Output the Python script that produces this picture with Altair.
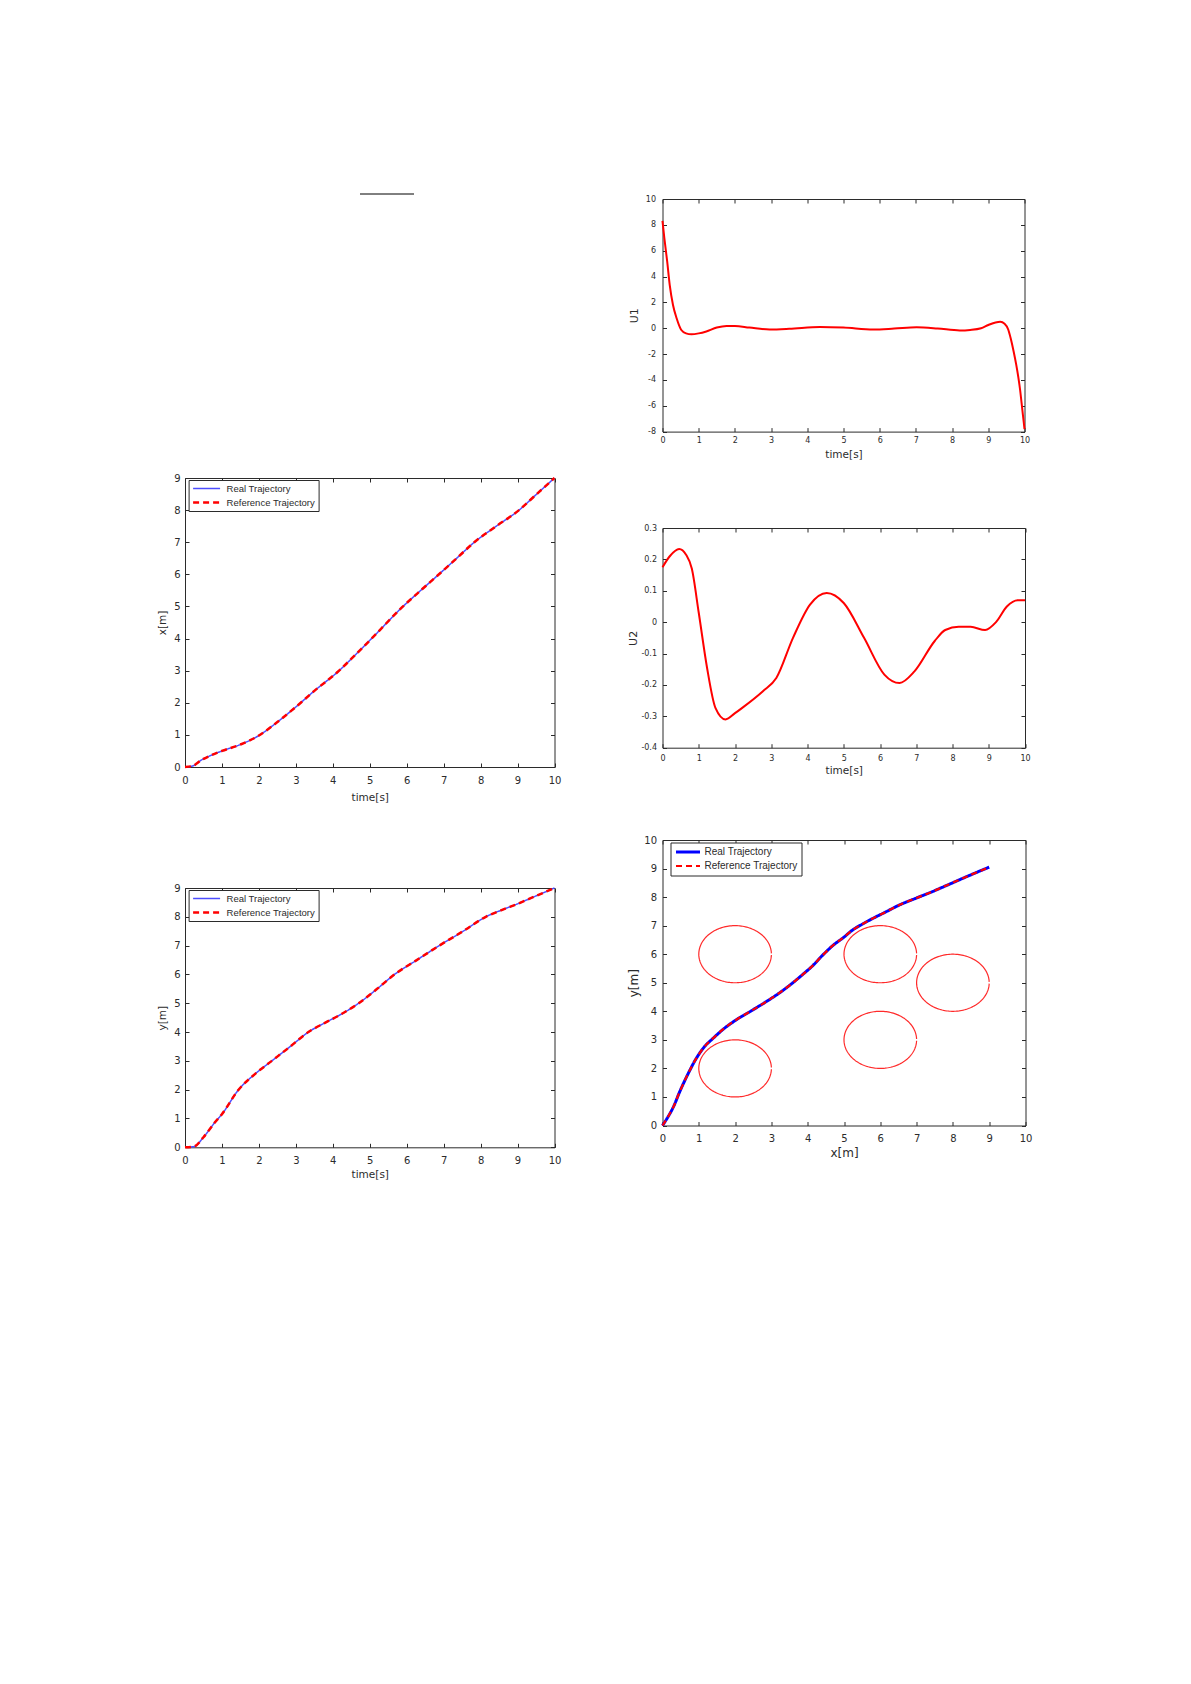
import altair as alt
import numpy as np
import pandas as pd

FONT = "Liberation Sans"
AXFONT = "DejaVu Sans"
INK = "#2b2b2b"
TS = 4  # inward tick length

SERIES = ["Real Trajectory", "Reference Trajectory"]

# ---------------- data ----------------
# control input U1
u1_t = [0, 0.05, 0.13, 0.2, 0.29, 0.39, 0.52, 0.65, 0.8, 1.0, 1.21, 1.5,
        1.77, 2.0, 2.4, 2.96, 3.5, 4.35, 5.0, 5.82, 6.4, 7.02, 7.6, 8.21, 8.5, 8.8, 9.0, 9.2,
        9.33, 9.45, 9.55, 9.62, 9.7, 9.77, 9.83, 9.88, 9.92, 9.96, 10.0]
u1_v = [8.3, 7.0, 5.15, 3.34, 1.8, 0.77, -0.14, -0.4, -0.47, -0.4, -0.25, 0.05,
        0.17, 0.17, 0.05, -0.1, -0.05, 0.1, 0.05, -0.1, -0.03, 0.07, -0.02, -0.17, -0.13, 0.0,
        0.25, 0.45, 0.5, 0.35, -0.1, -0.8, -1.8, -2.8, -3.8, -4.8, -5.8, -6.8, -7.8]

# control input U2
u2_t = [0, 0.2, 0.46, 0.65, 0.81, 1.0, 1.23, 1.46, 1.74, 2.0, 2.2, 2.77, 3.14, 3.6, 4.07,
        4.53, 5.0, 5.56, 6.12, 6.54, 6.95, 7.51, 7.8, 8.17, 8.5, 8.9, 9.2, 9.5, 9.8, 10]
u2_v = [0.175, 0.21, 0.233, 0.215, 0.17, 0.03, -0.146, -0.273, -0.31, -0.29, -0.273, -0.22,
        -0.178, -0.05, 0.056, 0.093, 0.061, -0.05, -0.167, -0.194, -0.157, -0.06, -0.025,
        -0.015, -0.015, -0.025, 0.0, 0.05, 0.07, 0.07]

# x(t)
xt_t = [0, 0.2, 0.45, 0.7, 1.0, 1.5, 2.0, 2.5, 3.0, 3.5, 4.17, 4.6, 5.05, 5.9, 6.4, 6.92,
        7.4, 7.83, 8.4, 9.04, 9.5, 10]
xt_x = [0, 0.03, 0.22, 0.36, 0.5, 0.7, 0.98, 1.4, 1.87, 2.37, 3.0, 3.48, 4.0, 5.0, 5.52,
        6.05, 6.55, 7.0, 7.48, 8.0, 8.48, 9.0]

# y(t)
yt_t = [0, 0.25, 0.5, 0.8, 1.0, 1.45, 1.9, 2.35, 2.85, 3.34, 3.8, 4.2, 4.7, 5.2, 5.67, 6.25,
        6.88, 7.5, 8.14, 8.6, 9.0, 9.31, 10]
yt_y = [0, 0.03, 0.35, 0.85, 1.15, 2.0, 2.55, 3.0, 3.5, 4.0, 4.33, 4.6, 5.0, 5.5, 6.0, 6.48,
        7.0, 7.48, 8.0, 8.25, 8.45, 8.62, 9.0]

# planar path y(x)
path_x = [0, 0.15, 0.3, 0.48, 0.7, 0.93, 1.15, 1.39, 1.7, 2.03, 2.45, 2.86, 3.25, 3.59, 3.9,
          4.14, 4.4, 4.69, 5.0, 5.24, 5.5, 5.79, 6.15, 6.52, 7.0, 7.43, 7.9, 8.44, 9.0]
path_y = [0, 0.3, 0.65, 1.2, 1.8, 2.35, 2.75, 3.05, 3.4, 3.7, 4.02, 4.34, 4.67, 5.0, 5.33,
          5.6, 5.95, 6.3, 6.6, 6.85, 7.05, 7.25, 7.48, 7.72, 7.97, 8.19, 8.45, 8.75, 9.05]

# obstacles
obs_cx = [2, 6, 8, 6, 2]
obs_cy = [6, 6, 5, 3, 2]
obs_r = 1.0

# tick values
t_ticks = [0, 1, 2, 3, 4, 5, 6, 7, 8, 9, 10]
u1_ticks = [-8, -6, -4, -2, 0, 2, 4, 6, 8, 10]
u2_ticks = [-0.4, -0.3, -0.2, -0.1, 0, 0.1, 0.2, 0.3]
m9_ticks = [0, 1, 2, 3, 4, 5, 6, 7, 8, 9]
m10_ticks = [0, 1, 2, 3, 4, 5, 6, 7, 8, 9, 10]

LABEL_EXPR = "'' + datum.value"
NONPOS = dict(color="independent", strokeDash="independent", strokeWidth="independent")


def main_axis(orient, vals, title, lab_fs, tit_fs, lab_pad, tit_pad):
    return alt.Axis(orient=orient, values=vals, offset=-TS, tickSize=TS, tickColor=INK,
                    tickWidth=1, domain=False, grid=False, labelFont=AXFONT,
                    labelFontSize=lab_fs, labelColor=INK, labelPadding=lab_pad,
                    labelFlush=False, labelOverlap=False, labelExpr=LABEL_EXPR,
                    title=title, titleFont=AXFONT, titleFontSize=tit_fs,
                    titleFontWeight="normal", titleColor=INK, titlePadding=tit_pad)


def tick_axis(orient, vals):
    return alt.Axis(orient=orient, values=vals, offset=-TS, tickSize=TS, tickColor=INK,
                    tickWidth=1, domain=False, grid=False, labels=False, title=None)


def frame_layer(df, xf, yf, xs, ys, xvals, yvals):
    return alt.Chart(df).mark_point(opacity=0).encode(
        x=alt.X(xf, type="quantitative", scale=xs, axis=tick_axis("top", xvals)),
        y=alt.Y(yf, type="quantitative", scale=ys, axis=tick_axis("right", yvals)),
    )


def legend(fs, sym_len, lx, ly, pad, row_h, lab_off):
    return alt.Legend(orient="none", legendX=lx, legendY=ly, title=None, symbolType="stroke",
                      symbolSize=sym_len * sym_len, labelFont=FONT, labelFontSize=fs,
                      labelColor=INK, labelOffset=lab_off, padding=pad, rowPadding=3,
                      clipHeight=row_h, fillColor="white", strokeColor=INK,
                      direction="vertical")


def gap(h):
    return alt.Chart(pd.DataFrame({"z": [0]})).mark_rule(opacity=0).encode(
        x=alt.value(0), x2=alt.value(1), y=alt.value(0)
    ).properties(width=1, height=h, view=alt.ViewBackground(strokeOpacity=0))


def two_series(xs_list, ys_list):
    n = len(xs_list)
    return pd.DataFrame({
        "a": list(xs_list) * 2,
        "b": list(ys_list) * 2,
        "k": list(range(n)) * 2,
        "series": [SERIES[0]] * n + [SERIES[1]] * n,
    })


def traj_encodings(colors, widths, leg):
    return dict(
        color=alt.Color("series:N", scale=alt.Scale(domain=SERIES, range=colors), legend=leg),
        strokeDash=alt.StrokeDash("series:N", scale=alt.Scale(domain=SERIES, range=[[1, 0], [6, 4]]), legend=leg),
        strokeWidth=alt.StrokeWidth("series:N", scale=alt.Scale(domain=SERIES, range=widths), legend=leg),
        order=alt.Order("k:Q"),
    )


tscale = alt.Scale(domain=[0, 10], nice=False, zero=False)

# ---------------- U1 ----------------
u1_df = pd.DataFrame({"t": u1_t, "u": u1_v})
u1_ys = alt.Scale(domain=[-8, 10], nice=False, zero=False)
u1_line = alt.Chart(u1_df).mark_line(color="#ff0000", strokeWidth=2, interpolate="monotone").encode(
    x=alt.X("t:Q", scale=tscale, axis=main_axis("bottom", t_ticks, "time[s]", 8, 10.5, 5, 5)),
    y=alt.Y("u:Q", scale=u1_ys, axis=main_axis("left", u1_ticks, "U1", 8, 11, 7, 6)),
)
u1 = alt.layer(u1_line, frame_layer(u1_df, "t", "u", tscale, u1_ys, t_ticks, u1_ticks)).resolve_axis(
    x="independent", y="independent").properties(width=362, height=232.6)

# ---------------- U2 ----------------
u2_df = pd.DataFrame({"t": u2_t, "u": u2_v})
u2_ys = alt.Scale(domain=[-0.4, 0.3], nice=False, zero=False)
u2_line = alt.Chart(u2_df).mark_line(color="#ff0000", strokeWidth=2, interpolate="monotone").encode(
    x=alt.X("t:Q", scale=tscale, axis=main_axis("bottom", t_ticks, "time[s]", 8, 10.5, 7, 3)),
    y=alt.Y("u:Q", scale=u2_ys, axis=main_axis("left", u2_ticks, "U2", 8, 11, 6, 2)),
)
u2 = alt.layer(u2_line, frame_layer(u2_df, "t", "u", tscale, u2_ys, t_ticks, u2_ticks)).resolve_axis(
    x="independent", y="independent").properties(width=362.5, height=219.7)

# ---------------- x(t) ----------------
m9 = alt.Scale(domain=[0, 9], nice=False, zero=False)
xt_df = two_series(xt_t, xt_x)
xt_line = alt.Chart(xt_df).mark_line(interpolate="monotone").encode(
    x=alt.X("a:Q", scale=tscale, axis=main_axis("bottom", t_ticks, "time[s]", 10, 10.5, 8, 7)),
    y=alt.Y("b:Q", scale=m9, axis=main_axis("left", m9_ticks, "x[m]", 10, 10.5, 5, 6)),
    **traj_encodings(["#4d4dff", "#ff0000"], [1.5, 2.5], legend(9.5, 27, 3.6, 2, 3, 11, 5)),
)
xpanel = alt.layer(xt_line, frame_layer(xt_df, "a", "b", tscale, m9, t_ticks, m9_ticks)).resolve_axis(
    x="independent", y="independent").properties(width=369.5, height=289)

# ---------------- y(t) ----------------
yt_df = two_series(yt_t, yt_y)
yt_line = alt.Chart(yt_df).mark_line(interpolate="monotone").encode(
    x=alt.X("a:Q", scale=tscale, axis=main_axis("bottom", t_ticks, "time[s]", 10, 10.5, 8, 4)),
    y=alt.Y("b:Q", scale=m9, axis=main_axis("left", m9_ticks, "y[m]", 10, 10.5, 5, 6)),
    **traj_encodings(["#4d4dff", "#ff0000"], [1.5, 2.5], legend(9.5, 27, 3.6, 2, 3, 11, 5)),
)
ypanel = alt.layer(yt_line, frame_layer(yt_df, "a", "b", tscale, m9, t_ticks, m9_ticks)).resolve_axis(
    x="independent", y="independent").properties(width=369.5, height=259.3)

# ---------------- y vs x with obstacles ----------------
m10 = alt.Scale(domain=[0, 10], nice=False, zero=False)
ang = np.linspace(0.03, 2 * np.pi - 0.03, 160)
circ_rows = []
for i, (cx, cy) in enumerate(zip(obs_cx, obs_cy)):
    for j, a in enumerate(ang):
        circ_rows.append({"cid": i, "k": j, "cxp": cx + obs_r * np.cos(a), "cyp": cy + obs_r * np.sin(a)})
circ_df = pd.DataFrame(circ_rows)
circles = alt.Chart(circ_df).mark_line(color="#ff2a2a", strokeWidth=1.2).encode(
    x=alt.X("cxp:Q", scale=m10, axis=main_axis("bottom", m10_ticks, "x[m]", 10, 12, 8, 4)),
    y=alt.Y("cyp:Q", scale=m10, axis=main_axis("left", m10_ticks, "y[m]", 10, 12, 6, 3)),
    detail="cid:N",
    order="k:Q",
)
xy_df = two_series(path_x, path_y)
xy_line = alt.Chart(xy_df).mark_line(interpolate="monotone").encode(
    x=alt.X("a:Q", scale=m10, axis=None),
    y=alt.Y("b:Q", scale=m10, axis=None),
    **traj_encodings(["#0000ff", "#ff0000"], [3, 2.2], legend(10, 24, 8, 2.5, 4, 11, 3)),
)
xy = alt.layer(circles, xy_line, frame_layer(xy_df, "a", "b", m10, m10, m10_ticks, m10_ticks)).resolve_axis(
    x="independent", y="independent").properties(width=363, height=285.5)

# ---------------- page layout ----------------
spacer_left = alt.Chart(pd.DataFrame({"z": [0]})).mark_rule(color="#000000", strokeWidth=1).encode(
    x=alt.value(175), x2=alt.value(229), y=alt.value(4)
).properties(width=369.5, height=288, view=alt.ViewBackground(strokeOpacity=0))

left = alt.vconcat(spacer_left, xpanel, gap(120.3), ypanel, spacing=0, bounds="flush").resolve_scale(
    **NONPOS).resolve_legend(**NONPOS)
right = alt.vconcat(gap(9), u1, gap(95.1), u2, gap(91.9), xy, spacing=0, bounds="flush").resolve_scale(
    **NONPOS).resolve_legend(**NONPOS)

chart = alt.hconcat(left, right, spacing=64.5).resolve_scale(**NONPOS).resolve_legend(**NONPOS).properties(
    padding={"left": 149, "top": 182, "right": 10, "bottom": 10},
    background="white",
).configure_view(stroke=INK, strokeWidth=1)

chart.save("out.html", embed_options={"renderer": "svg", "actions": False})
